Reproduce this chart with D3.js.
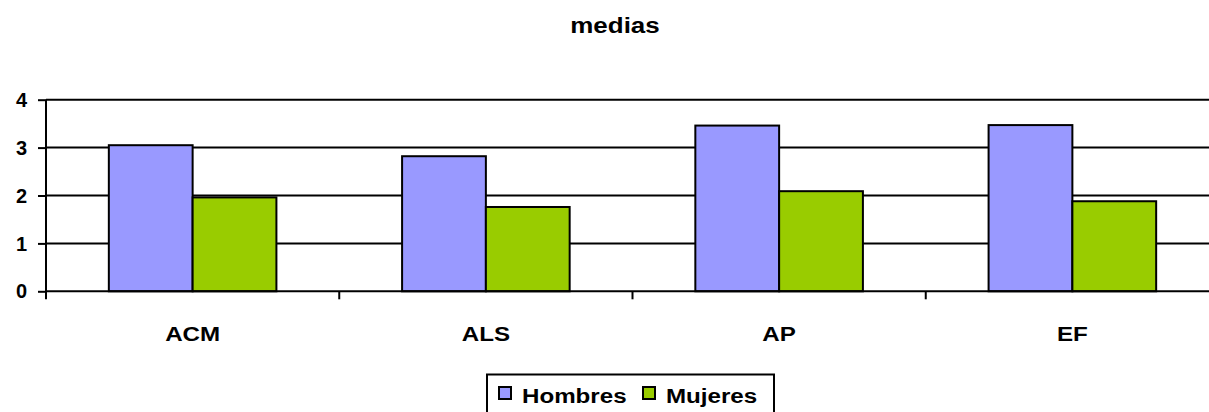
<!DOCTYPE html>
<html><head><meta charset="utf-8">
<script src="https://cdn.jsdelivr.net/npm/d3@7/dist/d3.min.js"></script>
<style>body{margin:0;background:#fff}svg{display:block}text{font-family:Arial,"Liberation Sans",sans-serif;font-weight:bold;fill:#000}</style>
</head><body><svg id="c" width="1209" height="412"></svg>
<script>
const categories = ["ACM", "ALS", "AP", "EF"];
const seriesNames = ["Hombres", "Mujeres"];
const hombres = [3.05, 2.82, 3.46, 3.47];
const mujeres = [1.96, 1.76, 2.09, 1.88];
const yTicks = [0, 1, 2, 3, 4];
const colors = ["#9999FF", "#99CC00"];
const title = "medias";

(function () {
const svg = d3.select("#c");
const pLeft = 46, pRight = 1219, pTop = 99.7, pBottom = 291.3;
const sx = 1.15;

const x0 = d3.scaleBand().domain(categories).range([pLeft, pRight]).padding(0);
const x1 = d3.scaleBand().domain(seriesNames).range([0, x0.bandwidth()]).paddingInner(0).paddingOuter(0.75);
const y = d3.scaleLinear().domain([0, 4]).range([pBottom, pTop]);

// gridlines
svg.append("g").selectAll("line").data(yTicks.filter(d => d > 0)).join("line")
  .attr("x1", pLeft).attr("x2", pRight).attr("y1", d => y(d)).attr("y2", d => y(d))
  .attr("stroke", "#000").attr("stroke-width", 2);

// bars
const data = categories.map((c, i) => ({c, vals: [hombres[i], mujeres[i]]}));
const g = svg.append("g").selectAll("g").data(data).join("g")
  .attr("transform", d => `translate(${x0(d.c)},0)`);
g.selectAll("rect").data(d => d.vals.map((v, j) => ({s: seriesNames[j], v, j}))).join("rect")
  .attr("x", d => x1(d.s)).attr("width", x1.bandwidth())
  .attr("y", d => y(d.v)).attr("height", d => y(0) - y(d.v))
  .attr("fill", d => colors[d.j]).attr("stroke", "#000").attr("stroke-width", 2);

// y axis
const ya = svg.append("g").attr("transform", `translate(${pLeft},0)`)
  .call(d3.axisLeft(y).tickValues(yTicks).tickSize(8).tickPadding(11).tickFormat(d3.format("d")));
ya.select(".domain").attr("stroke", "#000").attr("stroke-width", 2).attr("d", `M0,${pTop}V${pBottom}`);
ya.selectAll(".tick line").attr("stroke", "#000").attr("stroke-width", 2);
ya.selectAll(".tick text").attr("font-size", 20).attr("font-family", "Arial, 'Liberation Sans', sans-serif")
  .attr("font-weight", "bold").attr("fill", "#000").attr("dy", "0.33em");

// x axis
svg.append("line").attr("x1", pLeft).attr("x2", pRight).attr("y1", pBottom).attr("y2", pBottom)
  .attr("stroke", "#000").attr("stroke-width", 2);
const bounds = categories.map(c => x0(c)).concat([pRight]);
svg.append("g").selectAll("line").data(bounds).join("line")
  .attr("x1", d => d).attr("x2", d => d).attr("y1", pBottom).attr("y2", pBottom + 8)
  .attr("stroke", "#000").attr("stroke-width", 2);
svg.append("g").selectAll("text").data(categories).join("text")
  .attr("transform", d => `translate(${x0(d) + x0.bandwidth() / 2},341) scale(${sx},1)`)
  .attr("text-anchor", "middle").attr("font-size", 21).text(d => d);

// title
svg.append("text").attr("transform", `translate(615,33) scale(1.18,1)`)
  .attr("text-anchor", "middle").attr("font-size", 22).text(title);

// legend
const lg = svg.append("g");
lg.append("rect").attr("x", 487).attr("y", 374.5).attr("width", 287).attr("height", 42)
  .attr("fill", "#fff").attr("stroke", "#000").attr("stroke-width", 2);
const lx = [499, 643];
seriesNames.forEach((s, i) => {
  lg.append("rect").attr("x", lx[i]).attr("y", 387).attr("width", 12).attr("height", 12)
    .attr("fill", colors[i]).attr("stroke", "#000").attr("stroke-width", 2);
  lg.append("text").attr("transform", `translate(${lx[i] + 23},403) scale(${sx},1)`)
    .attr("font-size", 21).text(s);
});
})();
</script></body></html>
